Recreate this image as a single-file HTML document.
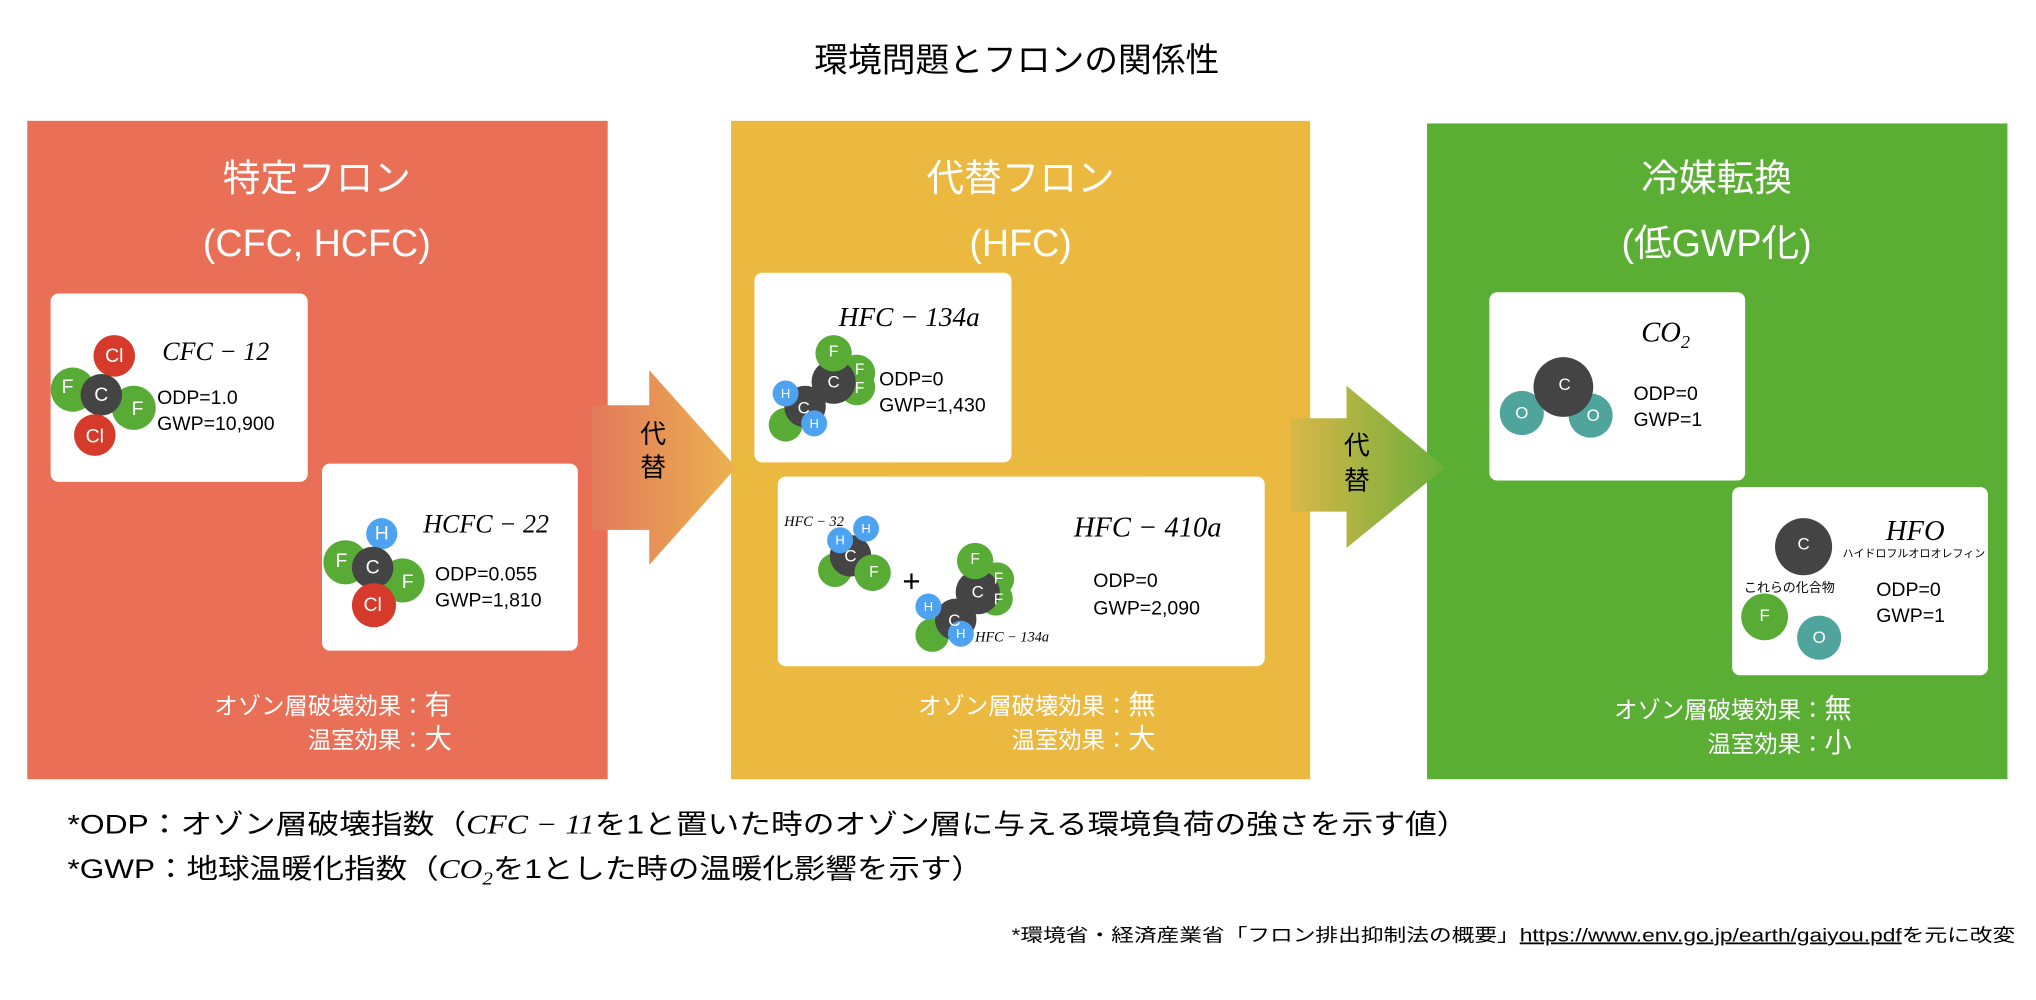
<!DOCTYPE html>
<html><head><meta charset="utf-8"><style>
html,body{margin:0;padding:0;background:#fff;}
svg{display:block;}
.jp{font-family:"Liberation Sans","Noto Sans CJK JP",sans-serif;}
.m{font-family:"Liberation Serif","Noto Serif CJK SC",serif;font-style:italic;}
.v{font-family:"Liberation Sans",sans-serif;font-size:15px;fill:#000;}
.a{font-family:"Liberation Sans",sans-serif;fill:#fff;text-anchor:middle;dominant-baseline:central;}
</style></head><body>
<svg width="2036" height="1000" viewBox="0 0 1568 770" xmlns="http://www.w3.org/2000/svg">
<defs>
<linearGradient id="g1" x1="0" x2="1" y1="0" y2="0"><stop offset="0" stop-color="#e27a5c"/><stop offset="1" stop-color="#ebb24e"/></linearGradient>
<linearGradient id="g2" x1="0" x2="1" y1="0" y2="0"><stop offset="0" stop-color="#d9b748"/><stop offset="1" stop-color="#6aae3a"/></linearGradient>
</defs>
<text x="783" y="55" class="jp" font-size="26" text-anchor="middle">環境問題とフロンの関係性</text>

<rect x="21" y="93" width="447" height="507" fill="#ea6f57"/>
<rect x="563" y="93" width="446" height="507" fill="#ecb940"/>
<rect x="1099" y="95" width="447" height="505" fill="#5aae34"/>

<polygon points="456,312 500,312 500,285 567,360 500,435 500,408 456,408" fill="url(#g1)"/>
<text x="503" y="341" class="jp" font-size="20" text-anchor="middle">代</text>
<text x="503" y="367" class="jp" font-size="20" text-anchor="middle">替</text>
<polygon points="994,322 1037,322 1037,297 1113,360 1037,422 1037,394 994,394" fill="url(#g2)"/>
<text x="1045" y="350" class="jp" font-size="20" text-anchor="middle">代</text>
<text x="1045" y="377" class="jp" font-size="20" text-anchor="middle">替</text>

<g class="jp" font-size="29" fill="#fff" text-anchor="middle">
<text x="244" y="147">特定フロン</text>
<text x="244" y="197">(CFC, HCFC)</text>
<text x="786" y="147">代替フロン</text>
<text x="786" y="197">(HFC)</text>
<text x="1322" y="147">冷媒転換</text>
<text x="1322" y="197">(低GWP化)</text>
</g>

<g fill="#fff">
<rect x="39" y="226" width="198" height="145" rx="6"/>
<rect x="248" y="357" width="197" height="144" rx="6"/>
<rect x="581" y="210" width="198" height="146" rx="6"/>
<rect x="599" y="367" width="375" height="146" rx="6"/>
<rect x="1147" y="225" width="197" height="145" rx="6"/>
<rect x="1334" y="375" width="197" height="145" rx="6"/>
</g>

<circle cx="56" cy="300" r="17" fill="#58ac36"/>
<circle cx="88" cy="274" r="16" fill="#d63a2a"/>
<circle cx="103" cy="314" r="17" fill="#58ac36"/>
<circle cx="78" cy="304" r="16" fill="#444"/>
<circle cx="73" cy="335" r="16" fill="#d63a2a"/>
<text class="a" x="88" y="274" font-size="15">Cl</text>
<text class="a" x="52" y="298" font-size="15">F</text>
<text class="a" x="78" y="304" font-size="15">C</text>
<text class="a" x="106" y="315" font-size="15">F</text>
<text class="a" x="73" y="336" font-size="15">Cl</text>
<text x="125" y="277" class="m" font-size="20">CFC − 12</text>
<text x="121" y="311" class="v">ODP=1.0</text>
<text x="121" y="331" class="v">GWP=10,900</text>

<circle cx="266" cy="433" r="17" fill="#58ac36"/>
<circle cx="294" cy="411" r="12" fill="#4da3f0"/>
<circle cx="310" cy="447" r="17" fill="#58ac36"/>
<circle cx="287" cy="437" r="16" fill="#444"/>
<circle cx="288" cy="466" r="17" fill="#d63a2a"/>
<text class="a" x="294" y="411" font-size="15">H</text>
<text class="a" x="263" y="432" font-size="15">F</text>
<text class="a" x="287" y="437" font-size="15">C</text>
<text class="a" x="314" y="448" font-size="15">F</text>
<text class="a" x="287" y="466" font-size="15">Cl</text>
<text x="326" y="410" class="m" font-size="20">HCFC − 22</text>
<text x="335" y="447" class="v">ODP=0.055</text>
<text x="335" y="467" class="v">GWP=1,810</text>

<circle cx="605" cy="327" r="13" fill="#58ac36"/>
<circle cx="620" cy="313" r="16" fill="#444"/>
<circle cx="660" cy="287" r="14" fill="#58ac36"/>
<circle cx="660" cy="298" r="14" fill="#58ac36"/>
<circle cx="642" cy="294" r="17" fill="#444"/>
<circle cx="642" cy="272" r="14" fill="#58ac36"/>
<circle cx="605" cy="303" r="10" fill="#4da3f0"/>
<circle cx="627" cy="326" r="10" fill="#4da3f0"/>
<text class="a" x="642" y="271" font-size="12">F</text>
<text class="a" x="662" y="285" font-size="12">F</text>
<text class="a" x="662" y="299" font-size="12">F</text>
<text class="a" x="642" y="294" font-size="13">C</text>
<text class="a" x="619" y="314" font-size="13">C</text>
<text class="a" x="605" y="303" font-size="10">H</text>
<text class="a" x="627" y="326" font-size="10">H</text>
<text x="646" y="251" class="m" font-size="21">HFC − 134a</text>
<text x="677" y="297" class="v">ODP=0</text>
<text x="677" y="317" class="v">GWP=1,430</text>

<text x="604" y="405" class="m" font-size="11">HFC − 32</text>
<circle cx="643" cy="439" r="13" fill="#58ac36"/>
<circle cx="672" cy="441" r="14" fill="#58ac36"/>
<circle cx="655" cy="428" r="16" fill="#444"/>
<circle cx="667" cy="407" r="10" fill="#4da3f0"/>
<circle cx="647" cy="416" r="10" fill="#4da3f0"/>
<circle cx="672" cy="441" r="14" fill="#58ac36"/>
<text class="a" x="667" y="407" font-size="10">H</text>
<text class="a" x="647" y="416" font-size="10">H</text>
<text class="a" x="655" y="428" font-size="13">C</text>
<text class="a" x="673" y="441" font-size="12">F</text>
<text x="702" y="456" font-family="Liberation Sans,sans-serif" font-size="24" text-anchor="middle">+</text>
<circle cx="718" cy="489" r="13" fill="#58ac36"/>
<circle cx="736" cy="477" r="16" fill="#444"/>
<circle cx="768" cy="446" r="13" fill="#58ac36"/>
<circle cx="767" cy="461" r="13" fill="#58ac36"/>
<circle cx="753" cy="456" r="17" fill="#444"/>
<circle cx="751" cy="432" r="14" fill="#58ac36"/>
<circle cx="715" cy="467" r="10" fill="#4da3f0"/>
<circle cx="740" cy="488" r="10" fill="#4da3f0"/>
<text class="a" x="751" y="431" font-size="12">F</text>
<text class="a" x="769" y="446" font-size="12">F</text>
<text class="a" x="769" y="462" font-size="12">F</text>
<text class="a" x="753" y="456" font-size="13">C</text>
<text class="a" x="735" y="478" font-size="13">C</text>
<text class="a" x="715" y="467" font-size="10">H</text>
<text class="a" x="740" y="488" font-size="10">H</text>
<text x="751" y="494" class="m" font-size="11">HFC − 134a</text>
<text x="827" y="413" class="m" font-size="22">HFC − 410a</text>
<text x="842" y="452" class="v">ODP=0</text>
<text x="842" y="473" class="v">GWP=2,090</text>

<circle cx="1172" cy="318" r="17" fill="#4fa49c"/>
<circle cx="1225" cy="320" r="17" fill="#4fa49c"/>
<circle cx="1204" cy="298" r="23" fill="#444"/>
<text class="a" x="1205" y="296" font-size="13">C</text>
<text class="a" x="1172" y="318" font-size="13">O</text>
<text class="a" x="1227" y="320" font-size="13">O</text>
<text x="1264" y="263" class="m" font-size="22">CO<tspan font-size="14" dy="5">2</tspan></text>
<text x="1258" y="308" class="v">ODP=0</text>
<text x="1258" y="328" class="v">GWP=1</text>

<circle cx="1389" cy="421" r="22" fill="#444"/>
<text class="a" x="1389" y="419" font-size="13">C</text>
<text x="1475" y="416" class="m" font-size="22" text-anchor="middle">HFO</text>
<text x="1474" y="429" class="jp" font-size="8.5" text-anchor="middle">ハイドロフルオロオレフィン</text>
<text x="1378" y="456" class="jp" font-size="10" text-anchor="middle">これらの化合物</text>
<circle cx="1359" cy="475" r="18" fill="#58ac36"/>
<circle cx="1401" cy="491" r="17" fill="#4fa49c"/>
<text class="a" x="1359" y="474" font-size="13">F</text>
<text class="a" x="1401" y="491" font-size="13">O</text>
<text x="1445" y="459" class="v">ODP=0</text>
<text x="1445" y="479" class="v">GWP=1</text>

<g class="jp" fill="#fff" text-anchor="end">
<text x="348" y="550" font-size="18">オゾン層破壊効果：<tspan font-size="21">有</tspan></text>
<text x="348" y="576" font-size="18">温室効果：<tspan font-size="21">大</tspan></text>
<text x="890" y="550" font-size="18">オゾン層破壊効果：<tspan font-size="21">無</tspan></text>
<text x="890" y="576" font-size="18">温室効果：<tspan font-size="21">大</tspan></text>
<text x="1426" y="553" font-size="18">オゾン層破壊効果：<tspan font-size="21">無</tspan></text>
<text x="1426" y="579" font-size="18">温室効果：<tspan font-size="21">小</tspan></text>
</g>

<text x="52" y="642" class="jp" font-size="21" textLength="1079" lengthAdjust="spacingAndGlyphs">*ODP：オゾン層破壊指数（<tspan class="m">CFC − 11</tspan>を1と置いた時のオゾン層に与える環境負荷の強さを示す値）</text>
<text x="52" y="676" class="jp" font-size="21" textLength="705" lengthAdjust="spacingAndGlyphs">*GWP：地球温暖化指数（<tspan class="m">CO<tspan font-size="14" dy="5">2</tspan></tspan><tspan dy="-5">を1とした時の温暖化影響を示す）</tspan></text>
<text x="779" y="725" class="jp" font-size="14" textLength="773" lengthAdjust="spacingAndGlyphs">*環境省・経済産業省「フロン排出抑制法の概要」<tspan text-decoration="underline">https://www.env.go.jp/earth/gaiyou.pdf</tspan>を元に改変</text>
</svg>
</body></html>
